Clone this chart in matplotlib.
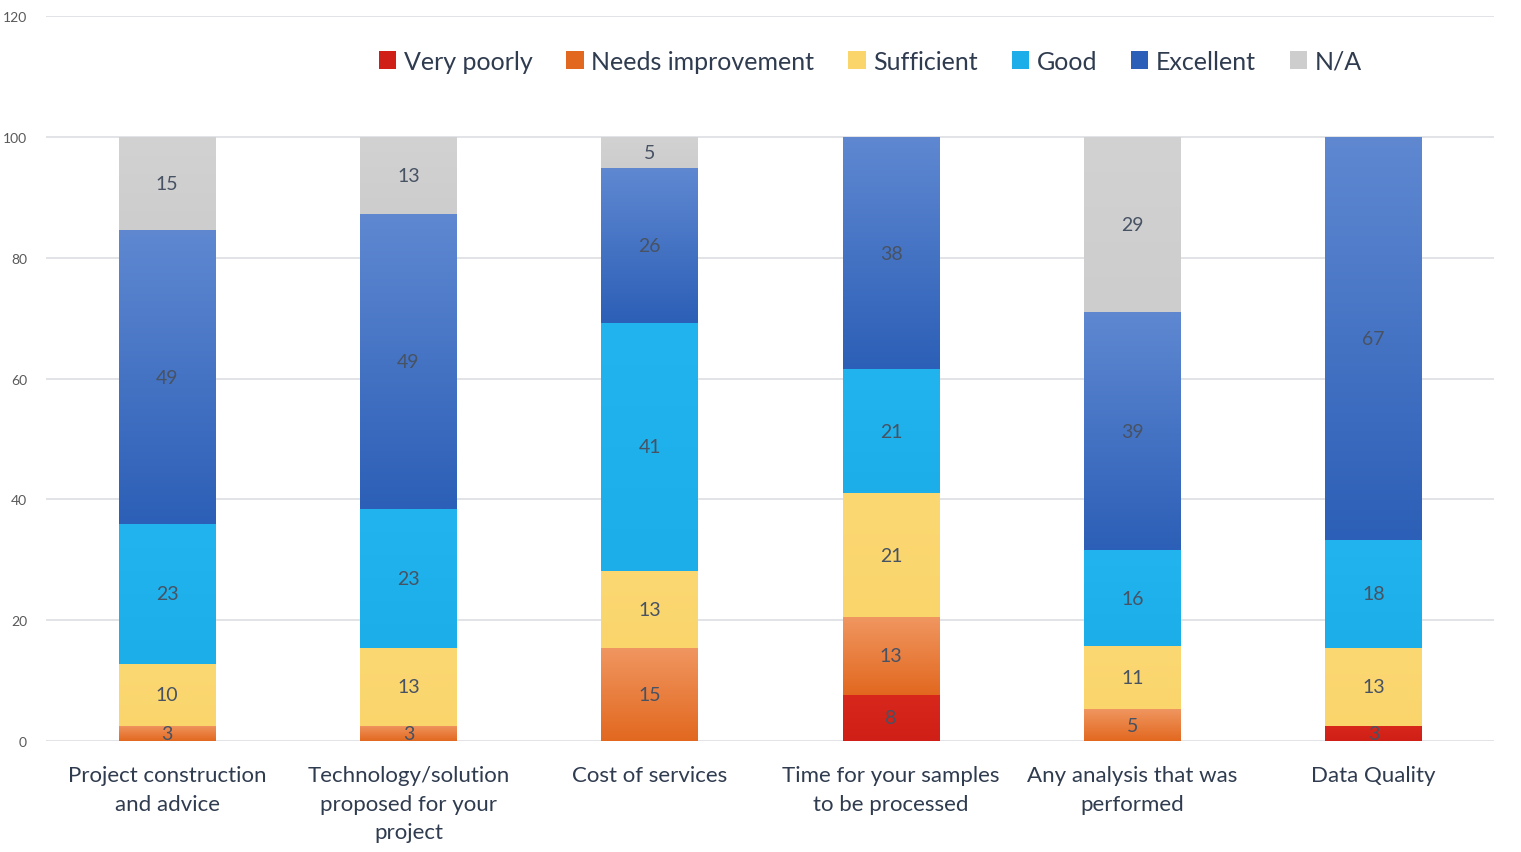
import numpy as np
import matplotlib.pyplot as plt
from matplotlib.colors import LinearSegmentedColormap

plt.rcParams['font.family'] = ['Lato', 'DejaVu Sans']

# survey results, percent of respondents per category
categories = ["Project construction\nand advice",
              "Technology/solution\nproposed for your\nproject",
              "Cost of services",
              "Time for your samples\nto be processed",
              "Any analysis that was\nperformed",
              "Data Quality"]
very_poorly = [0, 0, 0, 7.69, 0, 2.56]
needs_improvement = [2.56, 2.56, 15.38, 12.82, 5.26, 0]
sufficient = [10.26, 12.82, 12.82, 20.51, 10.53, 12.82]
good = [23.08, 23.08, 41.03, 20.51, 15.79, 17.95]
excellent = [48.72, 48.72, 25.64, 38.46, 39.47, 66.67]
not_applicable = [15.38, 12.82, 5.13, 0, 28.95, 0]

series = [("Very poorly", very_poorly, ("#d8281c", "#d01f16")),
          ("Needs improvement", needs_improvement, ("#f09660", "#e2681f")),
          ("Sufficient", sufficient, ("#fcd873", "#fad56c")),
          ("Good", good, ("#22b4ee", "#1caee8")),
          ("Excellent", excellent, ("#5f88d1", "#2c5fb7")),
          ("N/A", not_applicable, ("#d2d2d2", "#cdcdcd"))]

fig = plt.figure(figsize=(15.21, 8.53), dpi=100)
ax = fig.add_axes([0.0305, 0.130, 0.952, 0.850])

x = np.arange(len(categories))
width = 0.40
bottom = np.zeros(len(categories))
grad = np.linspace(0, 1, 256).reshape(-1, 1)

for name, vals, (top_c, bot_c) in series:
    vals = np.array(vals)
    bars = ax.bar(x, vals, width, bottom=bottom, color=bot_c, label=name,
                  linewidth=0, zorder=2)
    cmap = LinearSegmentedColormap.from_list(name, [bot_c, top_c])
    for rect, v, b, xi in zip(bars, vals, bottom, x):
        if v <= 0:
            continue
        im = ax.imshow(grad, cmap=cmap, aspect='auto', origin='lower',
                       extent=(xi - width / 2, xi + width / 2, b, b + v),
                       zorder=2.5)
        im.set_clip_path(rect)
        ax.text(xi, b + v / 2, f"{round(v)}", ha='center', va='center',
                fontsize=14, color='#475263', zorder=4)
    bottom += vals

ax.set_xlim(-0.5, len(categories) - 0.5)
ax.set_ylim(0, 120)
ax.set_yticks(range(0, 121, 20))
ax.set_xticks(x)
ax.set_xticklabels(categories, fontsize=16, color='#2f3b4f', linespacing=1.55)
ax.tick_params(axis='y', labelsize=10, colors='#595959', length=0, pad=14)
ax.tick_params(axis='x', length=0, pad=17)
ax.grid(axis='y', color='#dcdee3', linewidth=1.2, zorder=0)
ax.set_axisbelow(True)
for s in ax.spines.values():
    s.set_visible(False)

leg = ax.legend(loc='center', bbox_to_anchor=(0.569, 0.938), ncol=6,
                frameon=False, fontsize=18, handlelength=0.7, handleheight=0.7,
                handletextpad=0.3, columnspacing=1.35)
for t in leg.get_texts():
    t.set_color('#2f3b4f')

fig.savefig("out.png", dpi=100)
